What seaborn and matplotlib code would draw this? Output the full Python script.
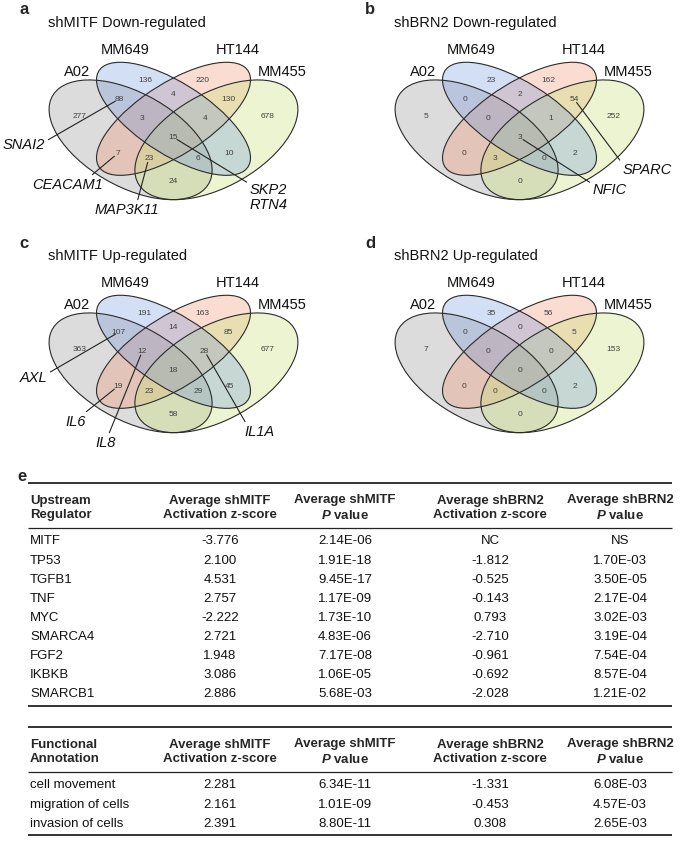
import numpy as np
import pandas as pd
import matplotlib
matplotlib.use("Agg")
import matplotlib.pyplot as plt
from matplotlib.patches import Ellipse
import seaborn as sns

# ---------------- data ----------------
SETS = ["A02", "MM649", "HT144", "MM455"]
REGIONS = ["A02", "MM649", "HT144", "MM455",
           "A02&MM649", "A02&HT144", "A02&MM455", "MM649&HT144", "MM649&MM455", "HT144&MM455",
           "A02&MM649&HT144", "A02&MM649&MM455", "A02&HT144&MM455", "MM649&HT144&MM455",
           "A02&MM649&HT144&MM455"]
mitf_down = [277, 136, 220, 678, 88, 7, 24, 4, 10, 130, 3, 6, 23, 4, 15]
brn2_down = [5, 23, 162, 252, 0, 0, 0, 2, 2, 54, 0, 0, 3, 1, 3]
mitf_up = [363, 191, 163, 677, 107, 19, 58, 14, 45, 85, 12, 29, 23, 28, 18]
brn2_up = [7, 35, 56, 153, 0, 0, 0, 0, 2, 5, 0, 0, 0, 0, 0]

panel_letters = ["a", "b", "c", "d"]
panel_titles = ["shMITF Down-regulated", "shBRN2 Down-regulated",
                "shMITF Up-regulated", "shBRN2 Up-regulated"]
panel_counts = [mitf_down, brn2_down, mitf_up, brn2_up]

genes_a = {"A02&MM649": "SNAI2", "A02&HT144": "CEACAM1",
           "A02&HT144&MM455": "MAP3K11", "A02&MM649&HT144&MM455": "SKP2\nRTN4"}
genes_b = {"HT144&MM455": "SPARC", "A02&MM649&HT144&MM455": "NFIC"}
genes_c = {"A02&MM649": "AXL", "A02&HT144": "IL6",
           "A02&MM649&HT144": "IL8", "MM649&HT144&MM455": "IL1A"}
genes_d = {}
panel_genes = [genes_a, genes_b, genes_c, genes_d]

# table e
upstream = ["MITF", "TP53", "TGFB1", "TNF", "MYC", "SMARCA4", "FGF2", "IKBKB", "SMARCB1"]
up_mitf_z = [-3.776, 2.100, 4.531, 2.757, -2.222, 2.721, 1.948, 3.086, 2.886]
up_mitf_p = [2.14e-06, 1.91e-18, 9.45e-17, 1.17e-09, 1.73e-10, 4.83e-06, 7.17e-08, 1.06e-05, 5.68e-03]
up_brn2_z = [np.nan, -1.812, -0.525, -0.143, 0.793, -2.710, -0.961, -0.692, -2.028]
up_brn2_p = [np.nan, 1.70e-03, 3.50e-05, 2.17e-04, 3.02e-03, 3.19e-04, 7.54e-04, 8.57e-04, 1.21e-02]

functions = ["cell movement", "migration of cells", "invasion of cells"]
fn_mitf_z = [2.281, 2.161, 2.391]
fn_mitf_p = [6.34e-11, 1.01e-09, 8.80e-11]
fn_brn2_z = [-1.331, -0.453, 0.308]
fn_brn2_p = [6.08e-03, 4.57e-03, 2.65e-03]

col_headers = ["Average shMITF\nActivation z-score", "Average shMITF\n$P$ value",
               "Average shBRN2\nActivation z-score", "Average shBRN2\n$P$ value"]

# ---------------- style ----------------
sns.set_theme(style="white")
plt.rcParams["font.family"] = ["Liberation Sans", "DejaVu Sans"]
plt.rcParams.update({"mathtext.fontset": "custom",
                     "mathtext.it": "Liberation Sans:italic:bold",
                     "mathtext.rm": "Liberation Sans:bold",
                     "mathtext.bf": "Liberation Sans:bold"})

set_colors = dict(zip(SETS, sns.color_palette(["#808080", "#648cdc", "#f0966e", "#c8e178"])))
set_alpha = {"A02": 0.27, "MM649": 0.28, "HT144": 0.32, "MM455": 0.34}
draw_order = ["A02", "HT144", "MM455", "MM649"]

# 4-ellipse Venn template (unit coordinates): cx, cy, a, b, angle
ELL = {"A02": (0.35, 0.47, 0.35, 0.20, 135),
       "MM649": (0.50, 0.57, 0.35, 0.15, 135),
       "HT144": (0.50, 0.57, 0.35, 0.15, 45),
       "MM455": (0.65, 0.47, 0.35, 0.20, 45)}
set_label_pos = {"A02": (0.164, 0.793), "MM649": (0.330, 0.898),
                 "HT144": (0.724, 0.898), "MM455": (0.879, 0.793)}

gene_layout = {
    "SNAI2": ((0.051, 0.445), "right", (1.0, 0.75)),
    "CEACAM1": ((0.128, 0.255), "center", (0.8, 1.0)),
    "MAP3K11": ((0.338, 0.136), "center", (0.65, 1.0)),
    "SKP2\nRTN4": ((0.767, 0.195), "left", (0.0, 0.97)),
    "SPARC": ((0.862, 0.326), "left", (0.0, 0.9)),
    "NFIC": ((0.757, 0.231), "left", (0.0, 0.9)),
    "AXL": ((0.058, 0.445), "right", (1.0, 0.8)),
    "IL6": ((0.156, 0.236), "center", (0.85, 1.0)),
    "IL8": ((0.264, 0.136), "center", (0.6, 1.0)),
    "IL1A": ((0.799, 0.188), "center", (0.1, 1.0)),
}

W, H = 685, 843
fig = plt.figure(figsize=(W / 100, H / 100), dpi=100)


def px_axes(left, top, width, height):
    return fig.add_axes([left / W, 1 - (top + height) / H, width / W, height / H])


def inside(X, Y, e):
    cx, cy, a, b, ang = e
    t = np.deg2rad(ang)
    dx, dy = X - cx, Y - cy
    u = dx * np.cos(t) + dy * np.sin(t)
    v = -dx * np.sin(t) + dy * np.cos(t)
    return (u / a) ** 2 + (v / b) ** 2 <= 1


def region_label_positions(sx, sy):
    g = np.linspace(0, 1, 221)
    X, Y = np.meshgrid(g, g)
    code = np.zeros(X.shape, dtype=int)
    for i, s in enumerate(SETS):
        code |= inside(X, Y, ELL[s]).astype(int) << i
    pos = {}
    for r in REGIONS:
        bits = sum(1 << SETS.index(s) for s in r.split("&"))
        m = code == bits
        nb = np.zeros_like(m)
        nb[1:, :] |= m[:-1, :]
        nb[:-1, :] |= m[1:, :]
        nb[:, 1:] |= m[:, :-1]
        nb[:, :-1] |= m[:, 1:]
        edge = nb & ~m
        P = np.column_stack([X[m] * sx, Y[m] * sy])
        E = np.column_stack([X[edge] * sx, Y[edge] * sy])
        d = ((P[:, None, :] - E[None, :, :]) ** 2).sum(-1).min(1)
        k = int(d.argmax())
        pos[r] = (P[k, 0] / sx, P[k, 1] / sy)
    return pos


venn_boxes = [(30.5, 28.5), (376.5, 28.5), (30.5, 261.5), (376.5, 261.5)]
AX_W, AX_H = 286, 210
label_pos = region_label_positions(AX_W, AX_H)

for (left, top), letter, title, counts, genes in zip(venn_boxes, panel_letters, panel_titles,
                                                     panel_counts, panel_genes):
    ax = px_axes(left, top, AX_W, AX_H)
    ax.set_xlim(0, 1)
    ax.set_ylim(0, 1)
    ax.axis("off")
    for s in draw_order:
        cx, cy, a, b, ang = ELL[s]
        ax.add_patch(Ellipse((cx, cy), 2 * a, 2 * b, angle=ang, facecolor=set_colors[s],
                             alpha=set_alpha[s], edgecolor="none", zorder=1))
    for s in SETS:
        cx, cy, a, b, ang = ELL[s]
        ax.add_patch(Ellipse((cx, cy), 2 * a, 2 * b, angle=ang, facecolor="none",
                             edgecolor="#2b2b2b", lw=0.8, zorder=2))
    for s in SETS:
        x, y = set_label_pos[s]
        ax.text(x, y, s, ha="center", va="center", fontsize=10.5, color="#111111")
    for r, c in zip(REGIONS, counts):
        x, y = label_pos[r]
        ax.text(x, y, str(c), ha="center", va="center", fontsize=6, color="#404040", zorder=3)
    for r, g in genes.items():
        (tx, ty), ha, relpos = gene_layout[g]
        ax.annotate(g, xy=label_pos[r], xytext=(tx, ty), textcoords="data",
                    ha=ha, va="center", fontsize=10.5, fontstyle="italic",
                    linespacing=1.05, color="#111111",
                    arrowprops=dict(arrowstyle="-", color="#222222", lw=0.8,
                                    shrinkA=0, shrinkB=3, relpos=relpos), zorder=4)
    ax.text(0.06, 1.026, title, ha="left", va="center", fontsize=10.5, color="#111111")
    fig.text((left - 6) / W, 1 - (top - 18.5) / H, letter, ha="center", va="center",
             fontsize=12, fontweight="bold")

# ---------------- table e ----------------
tab = fig.add_axes([0, 0, 1, 1], zorder=-1)
tab.set_xlim(0, W)
tab.set_ylim(H, 0)
tab.axis("off")
fig.text(22 / W, 1 - 477 / H, "e", ha="center", va="center", fontsize=12, fontweight="bold")

fmt_z = lambda v, alt: alt if pd.isna(v) else f"{v:.3f}"
fmt_p = lambda v, alt: alt if pd.isna(v) else f"{v:.2E}"

df_up = pd.DataFrame({"name": upstream, "mz": up_mitf_z, "mp": up_mitf_p,
                      "bz": up_brn2_z, "bp": up_brn2_p})
df_fn = pd.DataFrame({"name": functions, "mz": fn_mitf_z, "mp": fn_mitf_p,
                      "bz": fn_brn2_z, "bp": fn_brn2_p})

col_x = [220, 345, 490, 620]
X0, X1 = 28, 672


def draw_table(df, first_header, top):
    tab.plot([X0, X1], [top, top], color="#222222", lw=1.3, solid_capstyle="butt")
    hy = top + 25
    tab.text(30, hy, first_header, ha="left", va="center", fontsize=9.5, fontweight="bold",
             linespacing=1.25)
    for x, h in zip(col_x, col_headers):
        tab.text(x, hy, h, ha="center", va="center", fontsize=9.5, fontweight="bold",
                 linespacing=1.25, multialignment="center")
    rule = top + 45
    tab.plot([X0, X1], [rule, rule], color="#222222", lw=0.9, solid_capstyle="butt")
    y = rule + 13.5
    for _, row in df.iterrows():
        vals = [fmt_z(row.mz, "NC"), fmt_p(row.mp, "NS"), fmt_z(row.bz, "NC"), fmt_p(row.bp, "NS")]
        tab.text(30, y, row["name"], ha="left", va="center", fontsize=9.5, color="#111111")
        for x, v in zip(col_x, vals):
            tab.text(x, y, v, ha="center", va="center", fontsize=9.5, color="#111111")
        y += 19.1
    bottom = y - 19.1 + 11.5
    tab.plot([X0, X1], [bottom, bottom], color="#222222", lw=1.3, solid_capstyle="butt")


draw_table(df_up, "Upstream\nRegulator", 483)
draw_table(df_fn, "Functional\nAnnotation", 727)

fig.savefig("out.png", dpi=100)
